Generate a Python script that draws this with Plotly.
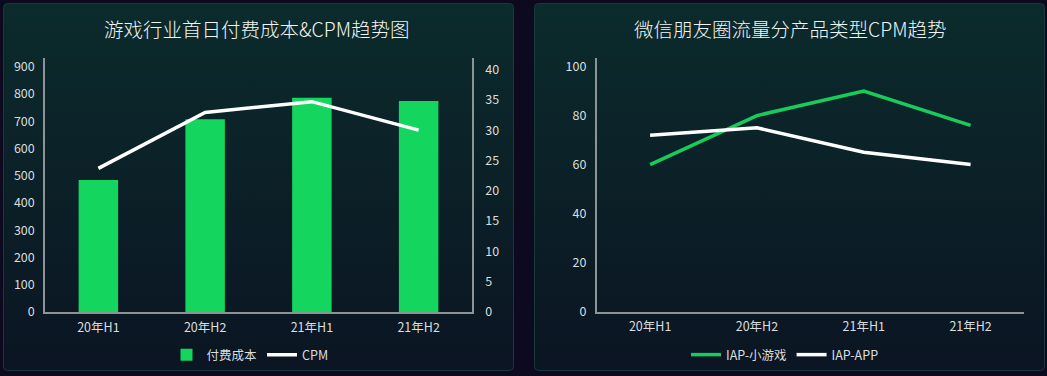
import base64
import plotly.graph_objects as go

# ---------------- data ----------------
categories = ["20年H1", "20年H2", "21年H1", "21年H2"]
pay_cost = [484, 707, 786, 774]          # 付费成本 (left axis)
cpm_game = [23.7, 32.9, 34.7, 30.0]      # CPM (right axis)
iap_minigame = [60, 80, 90, 76]          # IAP-小游戏
iap_app = [72, 75, 65, 60]               # IAP-APP

title_left = "游戏行业首日付费成本&CPM趋势图"
title_right = "微信朋友圈流量分产品类型CPM趋势"

W, H = 1047, 376
GREEN = "#14d65e"
LINE_GREEN = "#17cc5a"
WHITE = "#ffffff"
AXIS = "#8c9496"
TICK = "#d9dede"
FONT = "Noto Sans CJK SC"

# ---------------- background panels (svg image) ----------------
svg = f'''<svg xmlns="http://www.w3.org/2000/svg" width="{W}" height="{H}" viewBox="0 0 {W} {H}">
<defs><linearGradient id="g" x1="0" y1="0" x2="0" y2="1">
<stop offset="0" stop-color="#0b2b2c"/><stop offset="1" stop-color="#0b1523"/></linearGradient></defs>
<rect x="3.5" y="3.5" width="510" height="367" rx="4" fill="url(#g)" stroke="#173a3a" stroke-width="1"/>
<rect x="534.5" y="3.5" width="510" height="367" rx="4" fill="url(#g)" stroke="#173a3a" stroke-width="1"/>
</svg>'''
svg_uri = "data:image/svg+xml;base64," + base64.b64encode(svg.encode()).decode()

fig = go.Figure()

# left chart
fig.add_trace(go.Bar(x=categories, y=pay_cost, name="付费成本", marker_color=GREEN,
                     marker_line_width=0, width=0.37, xaxis="x", yaxis="y", legend="legend"))
fig.add_trace(go.Scatter(x=categories, y=cpm_game, name="CPM", mode="lines",
                         line=dict(color=WHITE, width=3.5), xaxis="x", yaxis="y2", legend="legend"))
# right chart
fig.add_trace(go.Scatter(x=categories, y=iap_minigame, name="IAP-小游戏", mode="lines",
                         line=dict(color=LINE_GREEN, width=3.5), xaxis="x3", yaxis="y3", legend="legend2"))
fig.add_trace(go.Scatter(x=categories, y=iap_app, name="IAP-APP", mode="lines",
                         line=dict(color=WHITE, width=3.5), xaxis="x3", yaxis="y3", legend="legend2"))

ydom = [1 - 312 / H, 1 - 58 / H]
ydom_r = [1 - 311.5 / H, 1 - 58 / H]
tickfont = dict(family=FONT, size=12.5, color=TICK)

common_x = dict(type="category", showgrid=False, zeroline=False, showline=True, linecolor=AXIS,
                linewidth=1.5, ticks="", tickfont=tickfont, ticklabelstandoff=3, fixedrange=True,
                automargin=False, range=[-0.5, 3.5])
common_y = dict(showgrid=False, zeroline=False, showline=True, linecolor=AXIS, linewidth=1.5,
                ticks="", tickfont=tickfont, fixedrange=True, automargin=False)

title_font = dict(family=FONT, size=19.5, color="#f2f4f4", weight=300)
legend_font = dict(family=FONT, size=12.5, color=TICK)

fig.update_layout(
    width=W, height=H,
    margin=dict(l=0, r=0, t=0, b=0, autoexpand=False),
    paper_bgcolor="#0d0a1f",
    plot_bgcolor="rgba(0,0,0,0)",
    font=dict(family=FONT, color=TICK),
    showlegend=True,
    xaxis=dict(domain=[45 / W, 472 / W], anchor="y", **common_x),
    yaxis=dict(domain=ydom, anchor="x", range=[0, 932], tickvals=list(range(0, 1000, 100)),
               ticklabelstandoff=6, **common_y),
    yaxis2=dict(overlaying="y", side="right", anchor="x", range=[0, 41.9],
                tickvals=list(range(0, 45, 5)), ticklabelstandoff=9, **common_y),
    xaxis3=dict(domain=[596.7 / W, 1024 / W], anchor="y3", **common_x),
    yaxis3=dict(domain=ydom_r, anchor="x3", range=[0, 103.5], tickvals=list(range(0, 120, 20)),
                ticklabelstandoff=6, **common_y),
    legend=dict(orientation="h", x=250 / W, xanchor="center", y=1 - 355 / H, yanchor="middle",
                font=legend_font, bgcolor="rgba(0,0,0,0)", itemwidth=30, tracegroupgap=0),
    legend2=dict(orientation="h", x=785 / W, xanchor="center", y=1 - 355 / H, yanchor="middle",
                 font=legend_font, bgcolor="rgba(0,0,0,0)", itemwidth=30, tracegroupgap=0),
    images=[dict(source=svg_uri, xref="paper", yref="paper", x=0, y=1, sizex=1, sizey=1,
                 xanchor="left", yanchor="top", sizing="stretch", layer="below")],
    annotations=[
        dict(text=title_left, x=257 / W, y=1 - 28 / H, xref="paper", yref="paper", showarrow=False,
             xanchor="center", yanchor="middle", font=title_font),
        dict(text=title_right, x=790 / W, y=1 - 28 / H, xref="paper", yref="paper", showarrow=False,
             xanchor="center", yanchor="middle", font=title_font),
    ],
)

fig.write_html("out.html", config={"displayModeBar": False})
